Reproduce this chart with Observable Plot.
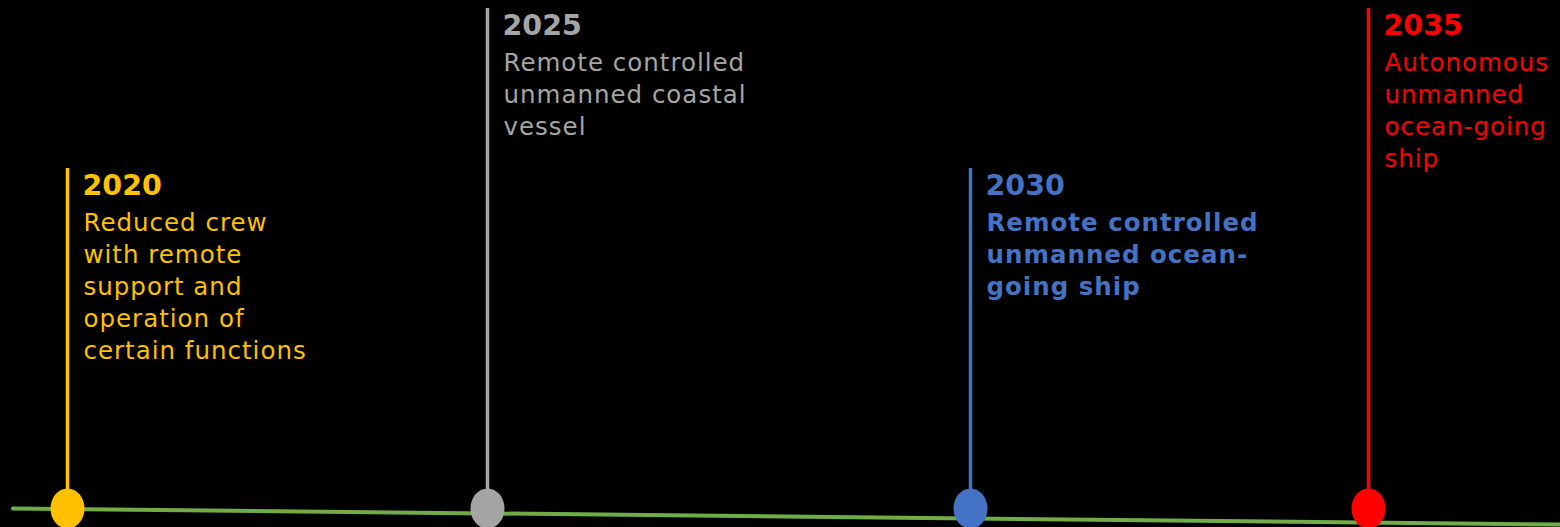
<!DOCTYPE html>
<html>
<head>
<meta charset="utf-8">
<script src="https://cdn.jsdelivr.net/npm/d3@7"></script>
<script src="https://cdn.jsdelivr.net/npm/@observablehq/plot@0.6"></script>
<style>
  html, body { margin: 0; padding: 0; background: #000; }
  #chart svg text { letter-spacing: 1px; }
  #chart svg g.years text { letter-spacing: 0px; }
</style>
</head>
<body>
<div id="chart"></div>
<script>
// ---- data ----
const years = [2020, 2025, 2030, 2035];
const colors = ["#FFC000", "#A5A5A5", "#4472C4", "#FF0000"];
const stemHeights = [340, 500, 340, 500];
const descriptions = [
  ["Reduced crew", "with remote", "support and", "operation of", "certain functions"],
  ["Remote controlled", "unmanned coastal", "vessel"],
  ["Remote controlled", "unmanned ocean-", "going ship"],
  ["Autonomous", "unmanned", "ocean-going", "ship"]
];
const boldDescription = [false, false, true, false];
const timelineYears = [2019.35, 2037.4];
const timelineLevels = [0, -16];

// ---- derived tables ----
const milestones = years.map((year, i) => ({year, color: colors[i], top: stemHeights[i]}));
const timeline = timelineYears.map((year, i) => ({year, level: timelineLevels[i]}));
const descLines = [];
years.forEach((year, i) => {
  descriptions[i].forEach((t, j) => {
    descLines.push({year, text: t, color: colors[i], bold: boldDescription[i],
      level: stemHeights[i] - 26 - 36 - 32 * j});
  });
});

const ellipse = {
  draw(ctx, size) {
    const r = Math.sqrt(size / Math.PI);
    const rx = r * 0.85, ry = r, k = 0.5523;
    ctx.moveTo(rx, 0);
    ctx.bezierCurveTo(rx, ry * k, rx * k, ry, 0, ry);
    ctx.bezierCurveTo(-rx * k, ry, -rx, ry * k, -rx, 0);
    ctx.bezierCurveTo(-rx, -ry * k, -rx * k, -ry, 0, -ry);
    ctx.bezierCurveTo(rx * k, -ry, rx, -ry * k, rx, 0);
    ctx.closePath();
  }
};

const chart = Plot.plot({
  width: 1560,
  height: 527,
  margin: 0,
  style: {background: "#000", fontFamily: "'DejaVu Sans', Verdana, sans-serif"},
  x: {type: "linear", domain: [2020, 2025, 2030, 2035], range: [67, 487, 970, 1368], clamp: false, axis: null},
  y: {domain: [0, 508], range: [508, 0], axis: null},
  marks: [
    Plot.line(timeline, {x: "year", y: "level", stroke: "#70AD47", strokeWidth: 4}),
    Plot.ruleX(milestones, {x: "year", y1: 0, y2: "top", stroke: "color", strokeWidth: 3.5}),
    Plot.dot(milestones, {x: "year", y: 0, r: 20, symbol: ellipse, fill: "color", stroke: null}),
    Plot.text(milestones, {x: "year", y: "top", text: d => String(d.year), fill: "color",
      fontWeight: "bold", fontSize: 28.5, textAnchor: "start", lineAnchor: "bottom", dx: 15, dy: 26,
      className: "years"}),
    Plot.text(descLines.filter(d => !d.bold), {x: "year", y: "level", text: "text", fill: "color",
      fontSize: 24.5, textAnchor: "start", lineAnchor: "bottom", dx: 16}),
    Plot.text(descLines.filter(d => d.bold), {x: "year", y: "level", text: "text", fill: "color",
      fontWeight: "bold", fontSize: 24.5, textAnchor: "start", lineAnchor: "bottom", dx: 16})
  ]
});
document.getElementById("chart").append(chart);
</script>
</body>
</html>
